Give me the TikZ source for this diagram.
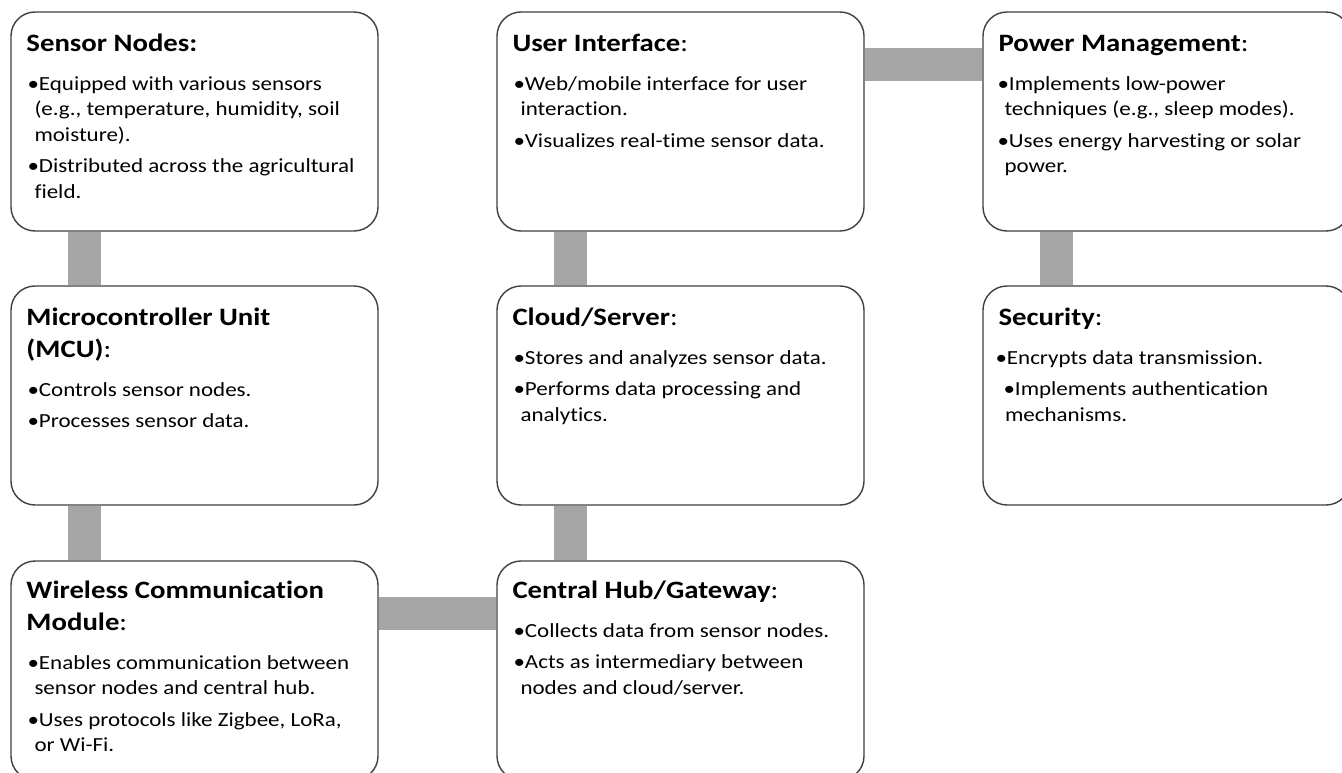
\documentclass[tikz,border=0pt]{standalone}
\usepackage{fontspec}
\setmainfont{Carlito}[FakeStretch=1.15,Ligatures=NoCommon]
\usetikzlibrary{backgrounds,calc}
\definecolor{boxborder}{HTML}{404040}
\definecolor{barcol}{HTML}{A6A6A6}
\newcommand\ind{\kern7pt}
\newcommand\pgap{\vskip6pt}
\tikzset{
  box/.style={draw=boxborder, line width=1.4pt, rounded corners=24pt, fill=white,
    minimum width=367pt, minimum height=219pt, inner sep=0pt},
  bar/.style={draw=barcol, line width=33pt},
  ttl/.style={anchor=base west, inner sep=0pt, text=black,
    font=\fontsize{25}{32}\selectfont},
  bdy/.style={anchor=base west, inner sep=0pt, text=black,
    font=\fontsize{20}{25.5}\selectfont},
}
\begin{document}
\begin{tikzpicture}[x=1pt,y=-1pt]
\useasboundingbox (0,0) rectangle (1342,773);
\clip (0,0) rectangle (1342,773);
% boxes
\node[box] (sensor)   at (194.5,121.5) {};
\node[box] (mcu)      at (194.5,395.5) {};
\node[box] (wireless) at (194.5,670.5) {};
\node[box] (ui)       at (680.5,121.5) {};
\node[box] (cloud)    at (680.5,395.5) {};
\node[box] (hub)      at (680.5,670.5) {};
\node[box] (power)    at (1166.5,121.5) {};
\node[box] (security) at (1166.5,395.5) {};
% connectors
\begin{pgfonlayer}{background}
\fill[white] (0,0) rectangle (1342,773);
\draw[bar] ($(sensor.south west)+(74,0)$) -- ($(mcu.north west)+(74,0)$);
\draw[bar] ($(mcu.south west)+(74,0)$) -- ($(wireless.north west)+(74,0)$);
\draw[bar] ($(wireless.north east)+(0,53.5)$) -- ($(hub.north west)+(0,53.5)$);
\draw[bar] ($(hub.north west)+(74,0)$) -- ($(cloud.south west)+(74,0)$);
\draw[bar] ($(cloud.north west)+(74,0)$) -- ($(ui.south west)+(74,0)$);
\draw[bar] ($(ui.north east)+(0,53.5)$) -- ($(power.north west)+(0,53.5)$);
\draw[bar] ($(power.south west)+(74,0)$) -- ($(security.north west)+(74,0)$);
\end{pgfonlayer}
% texts: sensor
\node[ttl] (sensorT) at ($(sensor.north west)+(16,40)$) {\textbf{Sensor Nodes:}};
\node[bdy] (sensorB) at ($(sensor.north west)+(17,79)$) {\vtop{%
  \hbox{•Equipped with various sensors}
  \hbox{\ind(e.g., temperature, humidity, soil}
  \hbox{\ind moisture).}\pgap
  \hbox{•Distributed across the agricultural}
  \hbox{\ind field.}}};
% mcu
\node[ttl] (mcuT) at ($(mcu.north west)+(16,40)$) {\vtop{%
  \hbox{\textbf{Microcontroller Unit}}
  \hbox{\textbf{(MCU)}:}}};
\node[bdy] (mcuB) at ($(mcu.north west)+(17,111)$) {\vtop{%
  \hbox{•Controls sensor nodes.}\pgap
  \hbox{•Processes sensor data.}}};
% wireless
\node[ttl] (wirelessT) at ($(wireless.north west)+(16,38)$) {\vtop{%
  \hbox{\textbf{Wireless Communication}}
  \hbox{\textbf{Module}:}}};
\node[bdy] (wirelessB) at ($(wireless.north west)+(17,109)$) {\vtop{%
  \hbox{•Enables communication between}
  \hbox{\ind sensor nodes and central hub.}\pgap
  \hbox{•Uses protocols like Zigbee, LoRa,}
  \hbox{\ind or Wi-Fi.}}};
% ui
\node[ttl] (uiT) at ($(ui.north west)+(16,40)$) {\textbf{User Interface}:};
\node[bdy] (uiB) at ($(ui.north west)+(17,79)$) {\vtop{%
  \hbox{•Web/mobile interface for user}
  \hbox{\ind interaction.}\pgap
  \hbox{•Visualizes real-time sensor data.}}};
% cloud
\node[ttl] (cloudT) at ($(cloud.north west)+(16,40)$) {\textbf{Cloud/Server}:};
\node[bdy] (cloudB) at ($(cloud.north west)+(17,79)$) {\vtop{%
  \hbox{•Stores and analyzes sensor data.}\pgap
  \hbox{•Performs data processing and}
  \hbox{\ind analytics.}}};
% hub
\node[ttl] (hubT) at ($(hub.north west)+(16,38)$) {\textbf{Central Hub/Gateway}:};
\node[bdy] (hubB) at ($(hub.north west)+(17,77)$) {\vtop{%
  \hbox{•Collects data from sensor nodes.}\pgap
  \hbox{•Acts as intermediary between}
  \hbox{\ind nodes and cloud/server.}}};
% power
\node[ttl] (powerT) at ($(power.north west)+(16,40)$) {\textbf{Power Management}:};
\node[bdy] (powerB) at ($(power.north west)+(15,79)$) {\vtop{%
  \hbox{•Implements low-power}
  \hbox{\ind techniques (e.g., sleep modes).}\pgap
  \hbox{•Uses energy harvesting or solar}
  \hbox{\ind power.}}};
% security
\node[ttl] (securityT) at ($(security.north west)+(16,40)$) {\textbf{Security}:};
\node[bdy] (securityB) at ($(security.north west)+(13,79)$) {\vtop{%
  \hbox{•Encrypts data transmission.}\pgap
  \hbox{\kern8pt•Implements authentication}
  \hbox{\kern9.5pt mechanisms.}}};
\end{tikzpicture}
\end{document}
